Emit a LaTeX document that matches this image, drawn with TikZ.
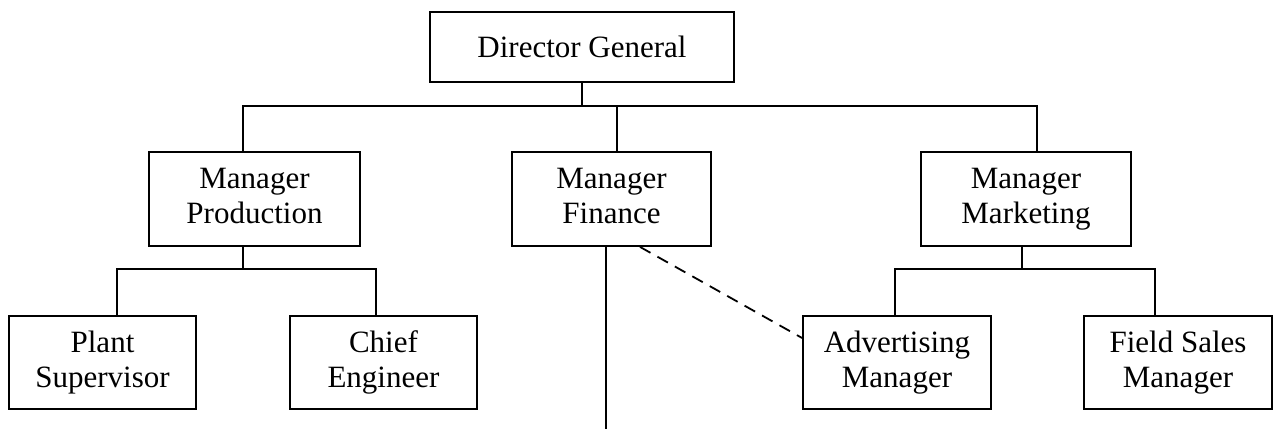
\documentclass[tikz,border=0pt]{standalone}
\usepackage{fontspec}
\setmainfont{Liberation Serif}
\newcommand{\boxstrut}{\rule[-3.5pt]{0pt}{17.5pt}}
\begin{document}
\begin{tikzpicture}[x=0.5pt, y=-0.5pt,
  post/.style={draw, line width=0.9pt, align=center, inner sep=0pt,
               font=\fontsize{15.5}{17.5}\selectfont},
  mid/.style={post, minimum height=47pt,
              execute at begin node=\boxstrut, execute at end node=\boxstrut},
  low/.style={mid, minimum height=46.5pt},
  link/.style={line width=0.9pt}]
\useasboundingbox (0, 0) rectangle (1276, 429);
\path (582, 47) node[post, minimum width=152pt, minimum height=35pt] (dg) {Director General}
      (254.5, 199) node[mid, minimum width=105.5pt] (prod) {Manager\\Production}
      (611.5, 199) node[mid, minimum width=99.5pt] (fin) {Manager\\Finance}
      (1026, 199) node[mid, minimum width=105pt] (mkt) {Manager\\Marketing}
      (102.5, 362.5) node[low, minimum width=93.5pt] (plant) {Plant\\Supervisor}
      (383.5, 362.5) node[low, minimum width=93.5pt] (chief) {Chief\\Engineer}
      (897, 362.5) node[low, minimum width=94pt] (adv) {Advertising\\Manager}
      (1178, 362.5) node[low, minimum width=94pt] (field) {Field Sales\\Manager};
\coordinate (top bus) at (0, 106);
\coordinate (low bus) at (0, 269);
\coordinate (fin end) at (606, 429);
% director to managers
\draw[link] (dg.south) -- (dg.south |- top bus);
\draw[link] ([xshift=-5.75pt]prod.north) -- ([xshift=-5.75pt]prod.north |- top bus)
      -- ([xshift=5.5pt]mkt.north |- top bus) -- ([xshift=5.5pt]mkt.north);
\draw[link] ([xshift=2.75pt]fin.north) -- ([xshift=2.75pt]fin.north |- top bus);
% production
\draw[link] ([xshift=-5.75pt]prod.south) -- ([xshift=-5.75pt]prod.south |- low bus);
\draw[link] ([xshift=7.25pt]plant.north) -- ([xshift=7.25pt]plant.north |- low bus)
      -- ([xshift=-3.75pt]chief.north |- low bus) -- ([xshift=-3.75pt]chief.north);
% finance
\draw[link] (fin.south -| fin end) -- (fin end);
\draw[link, dash pattern=on 6pt off 4pt] ([xshift=14.25pt]fin.south) -- ([yshift=12.25pt]adv.west);
% marketing
\draw[link] ([xshift=-2pt]mkt.south) -- ([xshift=-2pt]mkt.south |- low bus);
\draw[link] ([xshift=-1pt]adv.north) -- ([xshift=-1pt]adv.north |- low bus)
      -- ([xshift=-11.5pt]field.north |- low bus) -- ([xshift=-11.5pt]field.north);
\end{tikzpicture}
\end{document}
